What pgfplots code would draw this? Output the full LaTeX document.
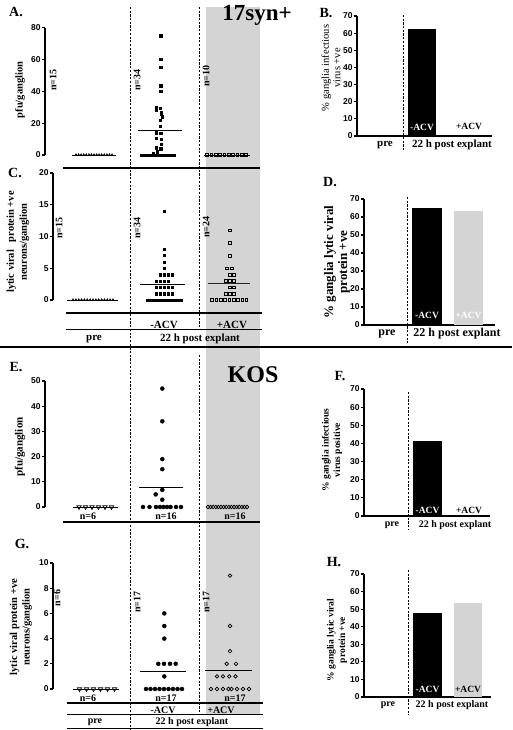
\documentclass[border=0pt]{standalone}
\usepackage{pgfplots}
\pgfplotsset{compat=1.18}
\usepackage{fontspec}
\setmainfont{Liberation Serif}
\newfontfamily\arial{Liberation Sans}
\definecolor{lg}{gray}{0.83}
\newcommand\fs[2]{\fontsize{#1}{#2}\selectfont}

\pgfplotsset{
  common/.style={scale only axis, clip=false, anchor=south west,
    axis line style={line width=1.8pt},
    tick style={line width=1.2pt, black},
    tick align=outside, major tick length=3.5pt,
    yticklabel style={font=\arial\bfseries\fs{8.5}{8.5}, inner sep=0.8pt},
    /pgf/number format/assume math mode=true},
  scat/.style={common, axis x line=none, axis y line*=left, ymin=0},
  barax/.style={common, axis x line*=bottom, axis y line*=left,
    xtick=\empty, ymin=0, ymax=70, ytick={0,10,...,70}},
  meanl/.style={black, line width=0.9pt},
  prem/.style={only marks, mark=triangle*, mark size=1.4pt, black},
  negs/.style={only marks, mark=square*, mark size=1.15pt, black, mark options={draw=none}},
  poss/.style={only marks, mark=square, mark size=1.3pt, black, mark options={line width=0.6pt}},
  pret/.style={only marks, mark=triangle, mark size=2.5pt, black, mark options={rotate=180, line width=0.7pt}},
  negc/.style={only marks, mark=*, mark size=2pt, black},
  posc/.style={only marks, mark=o, mark size=1.8pt, black, mark options={line width=0.7pt}},
}

\begin{document}
\begin{tikzpicture}
\begin{scope}[x=1pt,y=-1pt,yshift=730pt]
\useasboundingbox (0,0) rectangle (512,730);
% grey +ACV band and dividers
\fill[lg] (206,7) rectangle (260,715);
\begin{scope}[line width=0.7pt, dash pattern=on 2.2pt off 1.5pt]
\draw (130,7) -- (130,730);
\draw (199,7) -- (199,330);
\draw (199,355) -- (199,715);
\draw (403,15) -- (403,150);
\draw (407,197) -- (407,343);
\draw (408,392) -- (408,530);
\draw (408,570) -- (408,715);
\end{scope}
\draw[line width=1.8pt] (63,168) -- (260,168);
\draw[line width=1.8pt] (66,313) -- (262,313);
\draw[line width=1pt] (66,330) -- (262,330);
\draw[line width=1.8pt] (0,347) -- (512,347);
\draw[line width=1.8pt] (63,522) -- (260,522);
\draw[line width=1.8pt] (67,703) -- (263,703);
\draw[line width=1pt] (67,715) -- (263,715);
\draw[line width=1pt] (67,728.5) -- (263,728.5);
\end{scope}

% ---------- A ----------
\begin{axis}[scat, at={(45pt,575pt)}, width=217pt, height=127.3pt,
  xmin=45, xmax=262, ymax=80, ytick={0,20,...,80}]
\addplot[meanl] coordinates {(72,0)(116,0)};
\addplot[prem] coordinates {(76,0)(78.6,0)(81.1,0)(83.7,0)(86.3,0)(88.9,0)(91.4,0)(94,0)(96.6,0)(99.1,0)(101.7,0)(104.3,0)(106.9,0)(109.4,0)(112,0)};
\addplot[negs] coordinates {(160.7,75)(160.7,60)(160.7,55)(160.7,43.5)(160.7,40)(156,30)(160.5,29.5)(156,28)(161.5,27)(161,25.5)(162,24)(160.5,22)(160.5,18)(156,14)(160.7,13.5)(156,10.5)(161,10)(161,7)(156,4.5)(160.7,4)(157,2)(153,1)
 (141,0)(144,0)(147,0)(150,0)(153,0)(156,0)(159,0)(162,0)(165,0)(168,0)(171,0)(174,0)};
\addplot[meanl] coordinates {(138,15.7)(182,15.7)};
\addplot[meanl] coordinates {(204,0)(250,0)};
\addplot[poss] coordinates {(207,0)(211.3,0)(215.7,0)(220,0)(224.3,0)(228.7,0)(233,0)(237.3,0)(241.7,0)(246,0)};
\end{axis}

% ---------- C ----------
\begin{axis}[scat, at={(53pt,430pt)}, width=209pt, height=127pt,
  xmin=53, xmax=262, ymax=20, ytick={0,5,...,20}]
\addplot[meanl] coordinates {(67,0)(118,0)};
\addplot[prem] coordinates {(73,0)(75.9,0)(78.7,0)(81.6,0)(84.4,0)(87.3,0)(90.1,0)(93,0)(95.9,0)(98.7,0)(101.6,0)(104.4,0)(107.3,0)(110.1,0)(113,0)};
\addplot[negs] coordinates {(164.3,14)(164.3,8)(164.3,7)(164.3,6)(164.3,5)
 (160,4)(164,4)(168,4)(172,4)(156,3)(160,3)(164,3)(168,3)
 (156,2)(160,2)(164,2)(168,2)(172,2)(156,1)(160,1)(164,1)(168,1)(172,1)
 (147,0)(150.4,0)(153.8,0)(157.2,0)(160.6,0)(164,0)(167.4,0)(170.8,0)(174.2,0)(177.6,0)(181,0)};
\addplot[meanl] coordinates {(140,2.4)(185,2.4)};
\addplot[poss] coordinates {(230,11)(230,9)(230,7)(226.5,5)(231.5,5)(230,4)(234,4)(226,3)(230,3)(234,3)(230,2)(234,2)(226,1)(230,1)(234,1)
 (212,0)(216.3,0)(220.6,0)(224.9,0)(229.2,0)(233.5,0)(237.8,0)(242.1,0)(246.4,0)};
\addplot[meanl, black!85] coordinates {(208,2.6)(250,2.6)};
\end{axis}

% ---------- E ----------
\begin{axis}[scat, at={(45pt,223pt)}, width=217pt, height=126pt,
  xmin=45, xmax=262, ymax=50, ytick={0,10,...,50}]
\addplot[meanl] coordinates {(73,0)(118,0)};
\addplot[pret] coordinates {(79,0)(85.5,0)(92,0)(98.5,0)(105,0)(111.5,0)};
\addplot[negc] coordinates {(162.3,47)(162.3,34)(162.3,19)(162.3,15)(162.3,6.8)(155.7,5)(162.3,2.9)
 (143,0)(149.5,0)(156,0)(160,0)(163.5,0)(167,0)(170.5,0)(176,0)(181,0)};
\addplot[meanl] coordinates {(139,7.9)(183,7.9)};
\addplot[posc] coordinates {(208,0)(210.6,0)(213.2,0)(215.8,0)(218.4,0)(221,0)(223.6,0)(226.2,0)(228.8,0)(231.4,0)(234,0)(236.6,0)(239.2,0)(241.8,0)(244.4,0)(247,0)};
\end{axis}

% ---------- G ----------
\begin{axis}[scat, at={(53pt,41pt)}, width=209pt, height=126pt,
  xmin=53, xmax=262, ymax=10, ytick={0,2,...,10}]
\addplot[meanl] coordinates {(73,0)(119,0)};
\addplot[pret] coordinates {(79.5,0)(86.5,0)(93.5,0)(100.5,0)(107.5,0)(114.5,0)};
\addplot[negc] coordinates {(164.3,6)(164.3,5)(164.3,4)(158.3,2)(164,2)(170,2)(175.7,2)(164.3,1)
 (146,0)(150.5,0)(155,0)(159.5,0)(164,0)(168.5,0)(173,0)(177.5,0)(182,0)};
\addplot[meanl] coordinates {(140,1.41)(186,1.41)};
\addplot[posc] coordinates {(230,9)(230,5)(230,3)(226.7,2)(236,2)(217,1)(223,1)(229.3,1)(235.5,1)
 (211,0)(217,0)(223,0)(228.5,0)(231.5,0)(237,0)(243,0)(249,0)};
\addplot[meanl] coordinates {(205,1.47)(252,1.47)};
\end{axis}

% ---------- B ----------
\begin{axis}[barax, at={(357pt,594pt)}, width=135pt, height=120pt, xmin=357, xmax=492]
\addplot[ybar, bar width=28, bar shift=0pt, fill=black, draw=none] coordinates {(422,62.5)};
\end{axis}
% ---------- D ----------
\begin{axis}[barax, at={(364pt,405pt)}, width=131pt, height=126pt, xmin=364, xmax=495]
\addplot[ybar, bar width=30, bar shift=0pt, fill=black, draw=none] coordinates {(427,65)};
\addplot[ybar, bar width=29, bar shift=0pt, fill=lg, draw=none] coordinates {(468.5,63.5)};
\end{axis}
% ---------- F ----------
\begin{axis}[barax, at={(364pt,214pt)}, width=126pt, height=127pt, xmin=364, xmax=490]
\addplot[ybar, bar width=29, bar shift=0pt, fill=black, draw=none] coordinates {(427.5,41.3)};
\end{axis}
% ---------- H ----------
\begin{axis}[barax, at={(364pt,33pt)}, width=127pt, height=123pt, xmin=364, xmax=491]
\addplot[ybar, bar width=29, bar shift=0pt, fill=black, draw=none] coordinates {(427.5,47.8)};
\addplot[ybar, bar width=28, bar shift=0pt, fill=lg, draw=none] coordinates {(468,53.5)};
\end{axis}

% ---------- texts ----------
\begin{scope}[x=1pt,y=-1pt,yshift=730pt]
\begin{scope}[every node/.style={font=\bfseries\fs{14}{14}, inner sep=0pt}]
\node at (16,12) {A.};
\node at (326,13) {B.};
\node at (15,173) {C.};
\node at (330,182) {D.};
\node at (16,367) {E.};
\node at (340,376) {F.};
\node at (22,544) {G.};
\node at (334,562) {H.};
\end{scope}
\node[font=\bfseries\fs{23}{23}, inner sep=0pt] at (257,15) {17syn+};
\node[font=\bfseries\fs{24}{24}, inner sep=0pt] at (253,375) {KOS};

\begin{scope}[every node/.style={font=\bfseries\fs{10}{10}, inner sep=0pt}]
\node[rotate=90] at (53,80) {n=15};
\node[rotate=90] at (137,80) {n=34};
\node[rotate=90] at (206,76) {n=10};
\node[rotate=90] at (59,228) {n=15};
\node[rotate=90] at (137,228) {n=34};
\node[rotate=90] at (206,227) {n=24};
\node at (88,516) {n=6};
\node at (166,516) {n=16};
\node at (235,516) {n=16};
\node[rotate=90] at (57,598) {n=6};
\node[rotate=90] at (137,602) {n=17};
\node[rotate=90] at (206,602) {n=17};
\node at (88,698) {n=6};
\node at (166,698) {n=17};
\node at (235,698) {n=17};
\end{scope}

% y labels
\node[rotate=90, font=\bfseries\fs{10.5}{10.5}, inner sep=0pt] at (20,90) {pfu/ganglion};
\node[rotate=90, font=\bfseries\fs{10.5}{13}, align=center, inner sep=0pt] at (18,242) {lytic viral\ \ \ protein +ve\\neurons/ganglion};
\node[rotate=90, font=\bfseries\fs{11}{11}, inner sep=0pt] at (20,447) {pfu/ganglion};
\node[rotate=90, font=\bfseries\fs{10.5}{12.5}, align=center, inner sep=0pt] at (21,627) {lytic viral protein +ve\\neurons/ganglion};
\node[rotate=90, font=\fs{10.5}{11.5}, align=center, inner sep=0pt] at (331,68) {\% ganglia infectious\\virus +ve};
\node[rotate=90, font=\bfseries\fs{13}{14}, align=center, inner sep=0pt] at (337,262) {\% ganglia lytic viral\\protein +ve};
\node[rotate=90, font=\bfseries\fs{9.5}{11.5}, align=center, inner sep=0pt] at (332,450) {\% ganglia infectious\\virus positive};
\node[rotate=90, font=\bfseries\fs{9.5}{11.5}, align=center, inner sep=0pt] at (337,640) {\% ganglia lytic viral\\protein +ve};

% category labels
\begin{scope}[every node/.style={font=\bfseries\fs{11}{11}, inner sep=0pt}]
\node at (164,325) {-ACV};
\node at (232,325) {+ACV};
\node at (94,339) {pre};
\node at (200,339) {22 h post explant};
\node at (385,145) {pre};
\node at (452,145) {22 h post explant};
\end{scope}
\begin{scope}[every node/.style={font=\bfseries\fs{10}{10}, inner sep=0pt}]
\node at (163,710) {-ACV};
\node at (221,710) {+ACV};
\node at (95,722) {pre};
\node at (192,722) {22 h post explant};
\node at (392,525) {pre};
\node at (455,525) {22 h post explant};
\node at (388,705) {pre};
\node at (452,705) {22 h post explant};
\end{scope}
\node[font=\bfseries\fs{12}{12}, inner sep=0pt] at (387,334) {pre};
\node[font=\bfseries\fs{12}{12}, inner sep=0pt] at (457,334) {22 h post explant};
% bar labels
\begin{scope}[every node/.style={font=\bfseries\fs{9.5}{9.5}, inner sep=0pt}]
\node[white] at (422,127) {-ACV};
\node at (469,126) {+ACV};
\node[white] at (427,315) {-ACV};
\node[white] at (468.5,315) {+ACV};
\node[white] at (427.5,510) {-ACV};
\node at (469,510) {+ACV};
\node[white] at (427.5,689) {-ACV};
\node at (468,689) {+ACV};
\end{scope}
\end{scope}
\end{tikzpicture}
\end{document}
